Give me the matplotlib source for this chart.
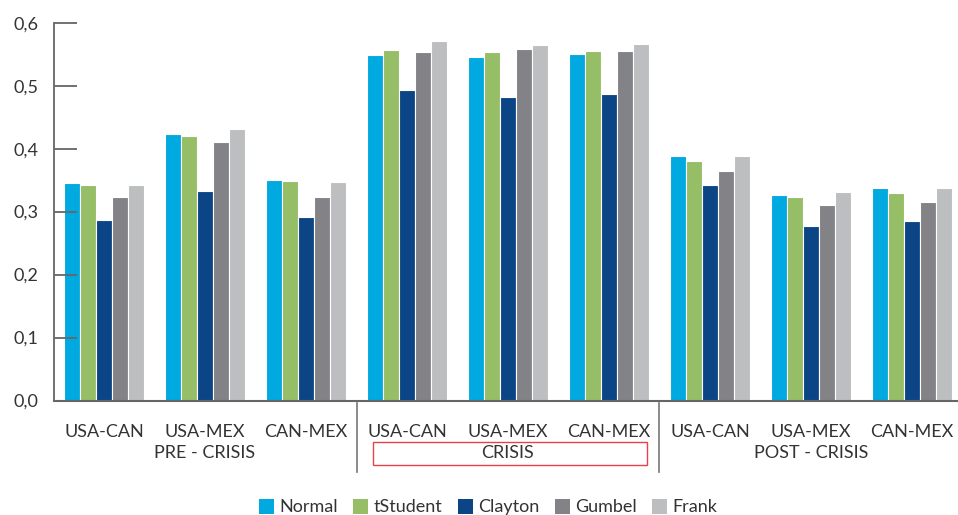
import matplotlib
matplotlib.use("Agg")
import matplotlib.pyplot as plt
import numpy as np
from matplotlib.transforms import blended_transform_factory
from matplotlib.patches import Rectangle, Patch
from matplotlib.lines import Line2D

categories = ["USA-CAN", "USA-MEX", "CAN-MEX"] * 3
periods = ["PRE - CRISIS", "CRISIS", "POST - CRISIS"]
series = ["Normal", "tStudent", "Clayton", "Gumbel", "Frank"]
normal   = [0.345, 0.423, 0.350, 0.548, 0.545, 0.550, 0.388, 0.326, 0.337]
tstudent = [0.343, 0.420, 0.348, 0.556, 0.553, 0.555, 0.380, 0.323, 0.329]
clayton  = [0.286, 0.332, 0.292, 0.493, 0.482, 0.486, 0.342, 0.277, 0.285]
gumbel   = [0.323, 0.410, 0.323, 0.553, 0.558, 0.555, 0.364, 0.310, 0.316]
frank    = [0.342, 0.431, 0.347, 0.571, 0.564, 0.566, 0.388, 0.331, 0.337]
yticks = [0.0, 0.1, 0.2, 0.3, 0.4, 0.5, 0.6]
ytick_labels = ["0,0", "0,1", "0,2", "0,3", "0,4", "0,5", "0,6"]

colors = ["#00A9E0", "#96BE66", "#0C4585", "#838387", "#BDBEC0"]
values = [normal, tstudent, clayton, gumbel, frank]

W, H = 958, 515
fig = plt.figure(figsize=(W / 100, H / 100), dpi=100)
plt.rcParams['font.family'] = ['Lato', 'DejaVu Sans']
left_px, right_px, top_px, bot_px = 53.5, 958, 22.7, 400.5
ax = fig.add_axes([left_px / W, 1 - bot_px / H, (right_px - left_px) / W, (bot_px - top_px) / H])

x = np.arange(len(categories))
bw = 0.16
for k, (vals, c, name) in enumerate(zip(values, colors, series)):
    ax.bar(x + (k - 2) * bw, vals, width=bw, color=c, edgecolor="white", linewidth=0.8, label=name)

spacing_px = 101.0
ax.set_xlim(-0.5, -0.5 + (right_px - left_px) / spacing_px)
ax.set_ylim(0, 0.6)
ax.set_yticks(yticks)
ax.set_yticklabels(ytick_labels)
ax.set_xticks([])
for s in ["top", "right"]:
    ax.spines[s].set_visible(False)
ax.spines["left"].set_color("#666666")
ax.spines["left"].set_linewidth(1.3)
ax.spines["bottom"].set_color("#666666")
ax.spines["bottom"].set_linewidth(1.5)
ax.tick_params(axis="y", direction="in", length=16.5, width=1.3, color="#666666",
               pad=11, labelsize=13, labelcolor="#333333")

tr = blended_transform_factory(ax.transData, fig.transFigure)
for i, cat in enumerate(categories):
    fig.text(i, 1 - 432 / H, cat, transform=tr, ha="center", va="center", fontsize=13, color="#333333")
for j, p in enumerate(periods):
    fig.text(3 * j + 1, 1 - 453 / H, p, transform=tr, ha="center", va="center", fontsize=13, color="#333333")

for xs in [2.5, 5.5]:
    fig.add_artist(Line2D([xs, xs], [1 - 403 / H, 1 - 472 / H], transform=tr, color="#777777", linewidth=1.2))

fig.add_artist(Rectangle((373 / W, 1 - 465 / H), (647 - 373) / W, 23 / H, transform=fig.transFigure,
                         fill=False, edgecolor="#E8414B", linewidth=1.0))

handles = [Patch(facecolor=c, edgecolor="none") for c in colors]
fig.legend(handles, series, loc="center", bbox_to_anchor=(488 / W, 1 - 507 / H), ncol=5, frameon=False,
           fontsize=13, handlelength=0.83, handleheight=0.9, handletextpad=0.3, columnspacing=0.85,
           labelcolor="#333333")

fig.savefig("out.png", dpi=100)
